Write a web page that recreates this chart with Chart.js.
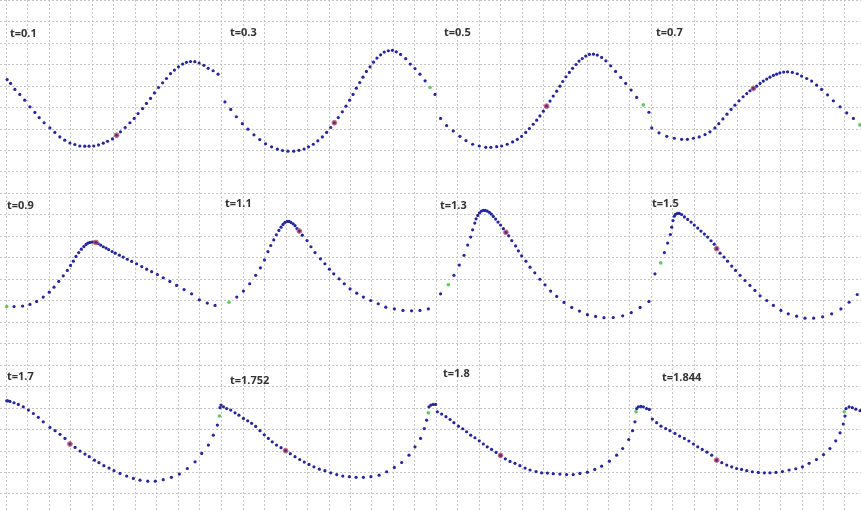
<!DOCTYPE html>
<html>
<head>
<meta charset="utf-8">
<script src="https://cdn.jsdelivr.net/npm/chart.js@4.4.0/dist/chart.umd.min.js"></script>
<style>
  html, body { margin: 0; padding: 0; background: #fff; }
  #wrap { position: relative; width: 861px; height: 510px; overflow: hidden; }
  #wrap canvas { position: absolute; left: 0; top: 0; }
  .lbl { position: absolute; font: bold 11px "Open Sans", sans-serif; line-height: 12px; color: #333; white-space: nowrap; }
</style>
</head>
<body>
<div id="wrap"><canvas id="chart" width="861" height="510"></canvas></div>
<script>
// snapshots of the wave, x and u in grid cells
const times = ['0.1', '0.3', '0.5', '0.7', '0.9', '1.1', '1.3', '1.5', '1.7', '1.752', '1.8', '1.844'];

const p01 = [[0.03,1.30],[0.19,1.12],[0.39,0.84],[0.62,0.61],[0.85,0.34],[1.09,0.03],[1.32,-0.23],[1.52,-0.47],[1.75,-0.71],[2.02,-0.95],[2.25,-1.16],[2.48,-1.37],[2.71,-1.52],[2.95,-1.65],[3.18,-1.72],[3.41,-1.79],[3.64,-1.80],[3.84,-1.80],[4.06,-1.79],[4.28,-1.74],[4.50,-1.66],[4.70,-1.57],[4.93,-1.46],[5.12,-1.29],[5.30,-1.13],[5.52,-0.93],[5.74,-0.71],[5.94,-0.51],[6.12,-0.28],[6.33,-0.05],[6.51,0.19],[6.70,0.42],[6.88,0.68],[7.07,0.93],[7.26,1.15],[7.44,1.35],[7.63,1.58],[7.81,1.74],[8.00,1.89],[8.19,2.02],[8.37,2.10],[8.56,2.14],[8.76,2.13],[8.96,2.07],[9.18,1.96],[9.38,1.82],[9.61,1.71],[9.84,1.55]];
const p02 = [[0.16,0.26],[0.43,-0.09],[0.69,-0.43],[0.97,-0.75],[1.23,-1.01],[1.51,-1.27],[1.78,-1.49],[2.05,-1.69],[2.33,-1.83],[2.60,-1.94],[2.84,-2.00],[3.09,-2.03],[3.36,-2.03],[3.60,-1.99],[3.84,-1.93],[4.05,-1.83],[4.27,-1.71],[4.48,-1.55],[4.69,-1.37],[4.89,-1.16],[5.08,-0.93],[5.25,-0.71],[5.43,-0.47],[5.62,-0.20],[5.79,0.06],[5.96,0.34],[6.12,0.61],[6.27,0.90],[6.43,1.16],[6.58,1.41],[6.74,1.68],[6.91,1.89],[7.07,2.11],[7.23,2.30],[7.40,2.45],[7.57,2.58],[7.76,2.64],[7.95,2.66],[8.13,2.59],[8.33,2.47],[8.57,2.27],[8.78,2.02],[9.00,1.81],[9.23,1.55],[9.47,1.24],[9.93,0.61]];
const p03 = [[0.19,-0.51],[0.47,-0.84],[0.78,-1.09],[1.09,-1.34],[1.37,-1.54],[1.68,-1.71],[1.99,-1.79],[2.29,-1.85],[2.53,-1.85],[2.80,-1.82],[3.03,-1.79],[3.29,-1.71],[3.54,-1.60],[3.76,-1.48],[3.96,-1.34],[4.15,-1.16],[4.32,-0.98],[4.50,-0.78],[4.66,-0.59],[4.81,-0.39],[4.97,-0.17],[5.12,0.06],[5.28,0.30],[5.43,0.53],[5.59,0.76],[5.74,0.99],[5.87,1.21],[6.02,1.43],[6.18,1.63],[6.33,1.82],[6.49,2.00],[6.63,2.16],[6.78,2.28],[6.94,2.39],[7.11,2.47],[7.30,2.48],[7.48,2.44],[7.68,2.33],[7.88,2.17],[8.10,1.94],[8.33,1.68],[8.57,1.40],[8.80,1.12],[9.05,0.81],[9.31,0.47],[9.88,-0.22]];
const p04 = [[0.01,-0.95],[0.35,-1.18],[0.71,-1.34],[1.06,-1.43],[1.40,-1.48],[1.67,-1.48],[1.95,-1.43],[2.22,-1.37],[2.49,-1.26],[2.72,-1.13],[2.95,-0.95],[3.13,-0.75],[3.32,-0.53],[3.51,-0.31],[3.70,-0.09],[3.88,0.11],[4.07,0.31],[4.26,0.50],[4.43,0.65],[4.58,0.78],[4.74,0.89],[4.89,0.99],[5.05,1.12],[5.20,1.23],[5.36,1.32],[5.51,1.41],[5.67,1.49],[5.82,1.55],[5.97,1.61],[6.15,1.65],[6.33,1.66],[6.55,1.63],[6.78,1.57],[6.98,1.46],[7.22,1.35],[7.45,1.23],[7.68,1.04],[7.91,0.84],[8.19,0.59],[8.46,0.31],[8.77,0.03],[9.08,-0.25],[9.39,-0.51]];
const p05 = [[0.35,-1.29],[0.75,-1.27],[1.09,-1.19],[1.40,-1.05],[1.71,-0.85],[1.99,-0.62],[2.21,-0.39],[2.43,-0.12],[2.64,0.14],[2.83,0.39],[2.98,0.62],[3.11,0.82],[3.23,1.04],[3.36,1.22],[3.48,1.38],[3.60,1.50],[3.70,1.60],[3.79,1.66],[3.88,1.69],[3.98,1.71],[4.07,1.71],[4.16,1.69],[4.26,1.64],[4.38,1.57],[4.50,1.49],[4.63,1.43],[4.75,1.36],[4.91,1.27],[5.06,1.19],[5.25,1.10],[5.43,1.01],[5.62,0.91],[5.82,0.81],[6.05,0.70],[6.29,0.57],[6.52,0.45],[6.75,0.33],[7.02,0.20],[7.29,0.05],[7.60,-0.12],[7.91,-0.31],[8.26,-0.50],[8.61,-0.70],[8.97,-0.98],[9.34,-1.13],[9.70,-1.24]];
const p06 = [[0.71,-0.85],[1.02,-0.57],[1.31,-0.23],[1.59,0.16],[1.81,0.51],[2.00,0.88],[2.16,1.26],[2.29,1.55],[2.43,1.81],[2.55,2.05],[2.67,2.25],[2.77,2.40],[2.86,2.53],[2.95,2.62],[3.05,2.67],[3.14,2.67],[3.23,2.62],[3.33,2.56],[3.42,2.47],[3.51,2.34],[3.62,2.22],[3.76,2.03],[3.98,1.78],[4.16,1.49],[4.35,1.22],[4.60,0.93],[4.81,0.70],[5.02,0.45],[5.22,0.23],[5.47,0.00],[5.71,-0.23],[5.98,-0.47],[6.29,-0.67],[6.60,-0.85],[6.94,-1.01],[7.29,-1.16],[7.64,-1.32],[8.04,-1.40],[8.44,-1.47],[8.84,-1.49],[9.23,-1.47],[9.62,-1.40]];
const p07 = [[0.19,-0.70],[0.81,0.16],[1.06,0.64],[1.28,1.09],[1.45,1.57],[1.59,1.94],[1.68,2.28],[1.78,2.59],[1.84,2.79],[1.92,2.95],[2.00,3.07],[2.09,3.15],[2.18,3.18],[2.27,3.18],[2.36,3.15],[2.46,3.09],[2.55,3.01],[2.64,2.90],[2.75,2.78],[2.86,2.64],[2.98,2.50],[3.11,2.33],[3.23,2.16],[3.36,2.00],[3.50,1.78],[3.68,1.53],[3.81,1.30],[3.96,1.07],[4.16,0.82],[4.35,0.54],[4.57,0.28],[4.81,-0.02],[5.05,-0.28],[5.31,-0.57],[5.59,-0.82],[5.93,-1.10],[6.29,-1.33],[6.65,-1.50],[7.02,-1.67],[7.40,-1.75],[7.79,-1.81],[8.22,-1.80],[8.66,-1.72],[9.06,-1.57],[9.47,-1.33],[9.88,-1.05]];
const p08 = [[0.16,0.23],[0.60,1.22],[0.75,1.66],[0.88,2.06],[0.94,2.40],[1.00,2.71],[1.06,2.91],[1.12,3.00],[1.20,3.04],[1.29,3.04],[1.40,2.99],[1.53,2.88],[1.68,2.76],[1.84,2.64],[1.99,2.50],[2.15,2.36],[2.30,2.22],[2.46,2.08],[2.61,1.94],[2.77,1.77],[2.92,1.61],[3.03,1.40],[3.19,1.19],[3.37,1.01],[3.54,0.82],[3.73,0.59],[3.91,0.39],[4.12,0.16],[4.35,-0.08],[4.58,-0.31],[4.81,-0.54],[5.05,-0.79],[5.36,-1.01],[5.67,-1.24],[6.02,-1.47],[6.36,-1.63],[6.75,-1.74],[7.14,-1.83],[7.54,-1.83],[7.96,-1.77],[8.38,-1.63],[8.81,-1.40],[9.19,-1.09],[9.57,-0.73]];
const p09 = [[0.01,2.34],[0.06,2.34],[0.16,2.31],[0.35,2.25],[0.55,2.17],[0.78,2.06],[1.02,1.91],[1.25,1.75],[1.48,1.57],[1.71,1.36],[2.02,1.10],[2.26,0.95],[2.49,0.78],[2.72,0.59],[2.95,0.33],[3.19,0.17],[3.42,0.00],[3.65,-0.14],[3.85,-0.26],[4.09,-0.42],[4.30,-0.54],[4.53,-0.68],[4.77,-0.79],[5.00,-0.91],[5.28,-1.04],[5.59,-1.16],[5.90,-1.27],[6.21,-1.35],[6.57,-1.40],[6.92,-1.40],[7.29,-1.33],[7.67,-1.22],[8.04,-1.07],[8.41,-0.81],[8.77,-0.50],[9.08,-0.11],[9.39,0.28],[9.62,0.74],[9.81,1.21],[9.93,2.02]];
const p10 = [[-0.02,2.14],[0.09,2.06],[0.24,1.98],[0.43,1.91],[0.63,1.78],[0.81,1.67],[1.02,1.52],[1.22,1.41],[1.40,1.29],[1.59,1.15],[1.79,0.95],[1.99,0.76],[2.18,0.59],[2.36,0.43],[2.56,0.28],[2.77,0.16],[2.98,0.02],[3.20,-0.12],[3.42,-0.26],[3.64,-0.39],[3.85,-0.51],[4.07,-0.62],[4.30,-0.73],[4.55,-0.84],[4.81,-0.91],[5.08,-1.01],[5.36,-1.09],[5.64,-1.16],[5.95,-1.19],[6.26,-1.22],[6.60,-1.22],[6.95,-1.19],[7.33,-1.12],[7.68,-0.96],[8.04,-0.76],[8.38,-0.53],[8.72,-0.19],[9.00,0.20],[9.26,0.59],[9.43,1.05],[9.54,1.44],[9.65,2.06],[9.74,2.14],[9.85,2.17],[9.96,2.17]];
const p11 = [[0.04,1.83],[0.24,1.72],[0.44,1.60],[0.63,1.47],[0.81,1.32],[1.02,1.16],[1.22,1.04],[1.40,0.90],[1.59,0.74],[1.79,0.62],[1.99,0.48],[2.18,0.33],[2.36,0.20],[2.56,0.08],[2.77,-0.06],[2.98,-0.20],[3.20,-0.36],[3.42,-0.48],[3.65,-0.57],[3.88,-0.68],[4.12,-0.79],[4.35,-0.88],[4.63,-0.95],[4.89,-1.01],[5.16,-1.02],[5.43,-1.05],[5.74,-1.07],[6.05,-1.09],[6.36,-1.09],[6.67,-1.04],[7.02,-0.98],[7.36,-0.85],[7.68,-0.70],[8.04,-0.47],[8.38,-0.19],[8.66,0.12],[8.94,0.54],[9.12,0.95],[9.23,1.36],[9.31,1.98],[9.39,2.06],[9.50,2.08],[9.62,2.06],[9.77,1.98],[9.90,1.94]];
const p12 = [[0.04,1.49],[0.24,1.32],[0.44,1.16],[0.66,1.05],[0.86,0.95],[1.09,0.82],[1.31,0.70],[1.53,0.59],[1.74,0.47],[1.95,0.33],[2.15,0.20],[2.36,0.08],[2.58,-0.05],[2.80,-0.19],[3.03,-0.42],[3.27,-0.54],[3.50,-0.65],[3.73,-0.73],[3.96,-0.81],[4.19,-0.85],[4.43,-0.91],[4.69,-0.96],[4.97,-0.99],[5.25,-1.01],[5.51,-1.01],[5.79,-0.99],[6.09,-0.95],[6.40,-0.88],[6.71,-0.82],[7.02,-0.73],[7.33,-0.57],[7.67,-0.39],[8.00,-0.16],[8.30,0.12],[8.57,0.48],[8.77,0.85],[8.92,1.26],[9.00,1.63],[9.05,1.98],[9.19,2.06],[9.34,2.02],[9.50,1.95],[9.70,1.88]];

// tracked particles
const redPts = [[5.12,-1.29],[5.25,-0.71],[5.12,0.06],[4.74,0.89],[4.16,1.69],[3.62,2.22],[3.23,2.16],[3.03,1.40],[2.95,0.33],[2.98,0.02],[2.98,-0.20],[3.03,-0.42]];
const greenPts = [null,[9.70,0.93],[9.62,0.12],[9.69,-0.81],[0.01,-1.29],[0.35,-1.09],[0.55,-0.28],[0.43,0.74],[9.90,1.63],[9.62,1.78],[9.28,1.83],[8.97,1.83]];

const panels = [p01, p02, p03, p04, p05, p06, p07, p08, p09, p10, p11, p12];

// layout (pixels)
const W = 861, H = 510, CELL = 21.5;
const colLeft = [6.5, 221.5, 436.5, 651.5];
const rowZero = [107.5, 278.8, 451.1];
const labelAt = [[10,33],[230,32],[444,32],[656,32],[7,205],[225,203],[440,205],[652,203],[7,376],[230,380],[443,373],[662,377]];

const scales = {
  x: {
    type: 'linear', min: -6.5 / CELL, max: (W - 6.5) / CELL,
    ticks: { display: false, stepSize: 1, includeBounds: false },
    grid: { color: '#c4c4c4', drawTicks: false, lineWidth: 1 },
    border: { display: false, dash: [2, 2] }
  },
  y: {
    type: 'linear', reverse: true, min: -0.23 / 21.468, max: (H - 0.23) / 21.468,
    ticks: { display: false, stepSize: 1, includeBounds: false },
    grid: { color: '#c4c4c4', drawTicks: false, lineWidth: 1 },
    border: { display: false, dash: [2, 2] }
  }
};
colLeft.forEach((px, c) => {
  scales['x' + c] = { type: 'linear', axis: 'x', display: false, min: -px / CELL, max: (W - px) / CELL };
});
rowZero.forEach((py, r) => {
  scales['y' + r] = { type: 'linear', axis: 'y', display: false, min: -(H - py) / CELL, max: py / CELL };
});

const toXY = pts => pts.map(p => ({ x: p[0], y: p[1] }));
const datasets = [];
panels.forEach((pts, i) => {
  const xAxisID = 'x' + (i % 4), yAxisID = 'y' + Math.floor(i / 4);
  datasets.push({
    label: 't=' + times[i], data: toXY(pts), xAxisID, yAxisID, order: 2,
    pointRadius: 1.6, pointBorderWidth: 0, pointBackgroundColor: '#26269c', showLine: false
  });
  if (greenPts[i]) {
    datasets.push({
      label: 'g' + i, data: toXY([greenPts[i]]), xAxisID, yAxisID, order: 1,
      pointRadius: 1.8, pointBorderWidth: 0, pointBackgroundColor: '#62c862', showLine: false
    });
  }
  datasets.push({
    label: 'r' + i, data: toXY([redPts[i]]), xAxisID, yAxisID, order: 0,
    pointRadius: 2.4, pointBorderWidth: 1, pointBorderColor: 'rgba(210,90,110,0.85)',
    pointBackgroundColor: 'rgba(120,50,110,0.7)', showLine: false
  });
});

new Chart(document.getElementById('chart'), {
  type: 'scatter',
  data: { datasets },
  options: {
    responsive: false,
    animation: false,
    events: [],
    layout: { padding: 0, autoPadding: false },
    plugins: { legend: { display: false }, tooltip: { enabled: false } },
    scales
  }
});

const wrap = document.getElementById('wrap');
times.forEach((t, i) => {
  const d = document.createElement('div');
  d.className = 'lbl';
  d.textContent = 't=' + t;
  d.style.left = labelAt[i][0] + 'px';
  d.style.top = (labelAt[i][1] - 6) + 'px';
  wrap.appendChild(d);
});
</script>
</body>
</html>
